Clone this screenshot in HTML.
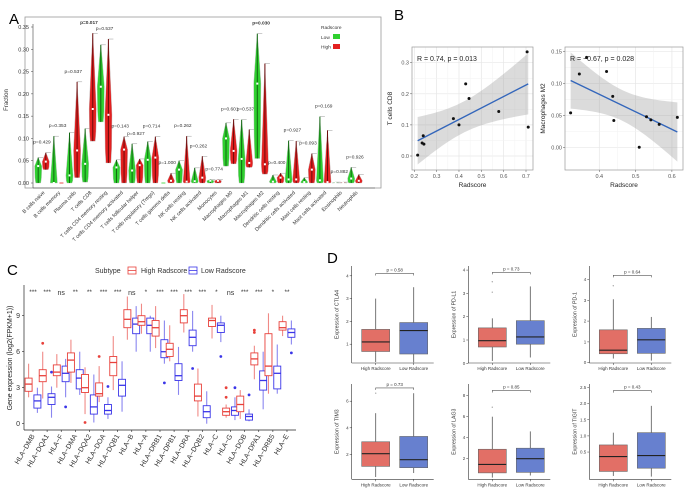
<!DOCTYPE html>
<html><head><meta charset="utf-8"><style>
html,body{margin:0;padding:0;background:#fff}
svg{display:block;font-family:"Liberation Sans",sans-serif}
</style></head><body>
<svg id="fig" width="685" height="490" viewBox="0 0 685 490" xmlns="http://www.w3.org/2000/svg">
<text x="9" y="24" font-size="15">A</text>
<text x="394" y="20" font-size="15">B</text>
<text x="7" y="275" font-size="15">C</text>
<text x="327" y="263" font-size="15">D</text>
<g id="pa"></g>
<g id="pb"></g>
<g id="pc"></g>
<g id="pd"></g>
</svg>
<script>
// ---------- Panel A data ----------
const aCells=["B cells naive","B cells memory","Plasma cells","T cells CD8","T cells CD4 memory resting","T cells CD4 memory activated","T cells follicular helper","T cells regulatory (Tregs)","T cells gamma delta","NK cells resting","NK cells activated","Monocytes","Macrophages M0","Macrophages M1","Macrophages M2","Dendritic cells resting","Dendritic cells activated","Mast cells resting","Mast cells activated","Eosinophils","Neutrophils"];
const aLowMax=[.057,.105,.113,.122,.31,.052,.088,.093,0,.05,.034,.008,.135,.142,.335,.018,.095,.012,.149,.002,.035];
const aLowMin=[0,0,0,.002,.137,0,0,0,0,0,0,0,.038,0,.055,0,0,0,0,0,0];
const aLowMed=[.038,0,.017,.043,.216,.035,.028,.052,0,.03,.004,.005,.1,.054,.223,.003,.008,.002,.006,0,.01];
const aHighMax=[.068,0,.227,.336,.323,.104,.054,.104,.022,.105,.06,.008,.143,.12,.268,.022,.094,.066,.118,.002,.019];
const aHighMin=[.03,0,.012,.094,.045,0,0,0,0,0,0,0,.043,.035,.02,0,0,0,0,0,0];
const aHighMed=[.048,0,.073,.166,.153,.075,.04,.057,.005,.003,.012,.005,.072,.045,.042,.012,.008,.03,.002,0,.005];
const aP=["p=0.429","p=0.353","p=0.537","p=0.017","p=0.537","p=0.143","p=0.927","p=0.714","p=1.000","p=0.262","p=0.262","p=0.774","p=0.601","p=0.537","p=0.030","p=0.400","p=0.927","p=0.093","p=0.169","p=0.882","p=0.926"];
const aTicks=[0,0.05,0.10,0.15,0.20,0.25,0.30,0.35];
const aTickLabels=["0.00","0.05","0.10","0.15","0.20","0.25","0.30","0.35"];
// ---------- Panel B data ----------
const b1X=[0.215,0.235,0.24,0.243,0.375,0.40,0.43,0.445,0.578,0.705,0.71];
const b1Y=[0.003,0.042,0.065,0.038,0.12,0.10,0.232,0.185,0.143,0.335,0.093];
const b2X=[0.321,0.345,0.365,0.42,0.437,0.44,0.51,0.53,0.542,0.565,0.615];
const b2Y=[0.054,0.115,0.141,0.119,0.08,0.042,0.0,0.048,0.043,0.036,0.047];
const b1Stat="R = 0.74, p = 0.013";
const b2Stat="R = \u22120.67, p = 0.028";
// ---------- Panel C data ----------
const cGenes=["HLA\u2212DMB","HLA\u2212DQA1","HLA\u2212F","HLA\u2212DMA","HLA\u2212DQA2","HLA\u2212DOA","HLA\u2212DQB1","HLA\u2212B","HLA\u2212A","HLA\u2212DRB1","HLA\u2212DPB1","HLA\u2212DRA","HLA\u2212DQB2","HLA\u2212C","HLA\u2212G","HLA\u2212DOB","HLA\u2212DPA1","HLA\u2212DRB5","HLA\u2212E"];
const cHigh=[[2.2,2.7,3.3,3.8,5.0],[2.1,3.5,4.0,4.5,6.0],[3.0,4.0,4.3,4.9,5.8],[3.4,4.3,5.3,5.9,7.0],[0.8,2.6,3.0,4.1,4.7],[1.8,2.3,2.5,3.4,4.8],[2.8,4.0,5.1,5.6,7.3],[7.0,8.0,8.7,9.5,10.6],[7.5,8.2,8.5,9.0,10.0],[6.3,7.3,8.0,8.6,9.8],[5.2,5.6,6.2,6.7,8.2],[7.6,8.4,9.0,9.5,10.8],[0.6,1.9,2.3,3.3,4.6],[7.1,8.1,8.6,8.8,9.9],[0.5,0.7,1.0,1.3,1.6],[0.4,1.0,1.6,2.3,2.8],[3.7,4.9,5.4,5.9,6.5],[2.5,4.0,4.8,7.5,9.2],[7.3,7.8,8.0,8.5,9.0]];
const cLow=[[0.9,1.3,1.9,2.4,3.0],[0.5,1.6,2.2,2.5,3.1],[2.2,3.5,4.2,4.8,5.4],[2.4,2.9,3.8,4.5,6.0],[0.1,0.8,1.4,2.4,4.1],[0.4,0.8,1.1,1.6,2.2],[1.0,2.3,3.2,3.7,5.2],[6.0,7.5,8.3,8.8,9.8],[6.0,7.5,8.2,8.8,9.0],[5.0,5.5,6.0,7.0,8.6],[2.4,3.6,4.0,5.0,6.4],[6.0,6.5,7.2,7.8,9.4],[0.0,0.5,1.0,1.5,2.7],[6.8,7.6,8.2,8.4,9.0],[0.3,0.7,1.1,1.4,2.2],[0.2,0.3,0.6,0.8,1.2],[1.2,2.8,3.6,4.4,6.0],[2.5,2.9,4.2,4.8,6.6],[6.6,7.2,7.6,7.9,8.6]];
const cHighOut=[[],[6.7],[],[],[0.1],[5.6],[],[],[],[],[],[],[],[],[2.2,3.0],[],[7.6,7.8],[],[]];
const cLowOut=[[],[4.3],[1.4],[],[],[3.1],[],[],[],[3.4],[],[4.6],[],[5.6],[3.0],[2.4],[],[],[5.9]];
const cSig=["***","***","ns","**","**","***","***","ns","*","***","***","***","***","*","ns","***","***","*","**"];
const cTicks=[0,3,6,9];
// ---------- Panel D data ----------
const dGenes=["CTLA4","PD-L1","PD-1","TIM3","LAG3","TIGIT"];
const dHigh=[[0.22,0.68,1.1,1.65,3.0],[0.1,0.7,0.97,1.52,1.93],[0.2,0.43,0.6,1.58,3.05],[0.3,1.1,2.05,2.95,5.1],[0.2,0.65,1.45,2.9,6.0],[-0.24,-0.1,0.36,0.72,1.1]];
const dLow=[[0.2,0.57,1.6,1.95,3.5],[0.25,0.82,1.13,1.83,3.3],[0.1,0.45,1.1,1.65,2.2],[0.6,1.0,1.6,3.35,6.6],[0.4,0.7,2.0,3.0,4.6],[-0.26,0.0,0.39,1.1,1.93]];
const dHighOut=[[],[3.05,3.5],[3.7],[6.6],[6.9],[]];
const dLowOut=[[],[],[],[],[],[]];
const dP=["p = 0.58","p = 0.73","p = 0.64","p = 0.73","p = 0.85","p = 0.43"];
const dBracket=[4.1,3.9,4.2,7.0,8.5,2.4];
const dTicks=[[1,2,3,4],[0,1,2,3,4],[0,1,2,3,4],[2,4,6],[2,4,6,8],[0.5,1.0,1.5,2.0,2.5]];

const NS="http://www.w3.org/2000/svg";
function mk(parent,tag,attrs,text){const e=document.createElementNS(NS,tag);for(const k in attrs)e.setAttribute(k,attrs[k]);if(text!==undefined)e.textContent=text;parent.appendChild(e);return e;}

// ================= Panel A =================
(function(){
const g=document.getElementById('pa');
const y=v=>183-v/0.35*156;
const x=i=>42+i*15.65;
const fr=mk(g,'rect',{x:25,y:17,width:356,height:171,fill:'none',stroke:'#999','stroke-width':0.8});


mk(g,'line',{x1:33,y1:24,x2:33,y2:188,stroke:'#444','stroke-width':0.6});
mk(g,'line',{x1:33,y1:188,x2:375,y2:188,stroke:'#444','stroke-width':0.6});
aTicks.forEach((t,i)=>{
  mk(g,'line',{x1:31,y1:y(t),x2:33,y2:y(t),stroke:'#444','stroke-width':0.5});
  const tl=mk(g,'text',{x:29,y:y(t)+2,'font-size':5.5,'text-anchor':'end',fill:'#333'},aTickLabels[i]);
  
  
});
const yt=mk(g,'text',{x:0,y:0,'font-size':6,'text-anchor':'middle',fill:'#333',transform:'translate(8,100) rotate(-90)'},'Fraction');


function violin(cx,mn,md,mx,col,dark,name){
  if(mx-mn<0.0015){mk(g,'line',{x1:cx-2,y1:y(mn),x2:cx+2,y2:y(mn),stroke:col,'stroke-width':0.8});return;}
  const w=3.6;
  const p=[[cx,y(mx)],[cx+w*0.35,y(mx-(mx-md)*0.3)],[cx+w,y(md)],[cx+w*0.9,y(mn+(md-mn)*0.3)],[cx+w*0.7,y(mn)],[cx-w*0.7,y(mn)],[cx-w*0.9,y(mn+(md-mn)*0.3)],[cx-w,y(md)],[cx-w*0.35,y(mx-(mx-md)*0.3)]];
  mk(g,'line',{x1:cx,y1:y(mx),x2:cx+5,y2:y(mx),stroke:'#999','stroke-width':0.5});
  const v=mk(g,'polygon',{points:p.map(q=>q.join(',')).join(' '),fill:col,stroke:'#bbb','stroke-width':0.4});
  
  
  mk(g,'line',{x1:cx,y1:y(mx),x2:cx,y2:y(mn),stroke:dark,'stroke-width':1});
  mk(g,'rect',{x:cx-1,y:y(md)-1,width:2,height:2,fill:'#fff'});
}
aCells.forEach((c,i)=>{
  const cx=x(i);
  violin(cx-3.8,aLowMin[i],aLowMed[i],aLowMax[i],'#2fd02f','#116611','violin-low-'+i);
  violin(cx+3.8,aHighMin[i],aHighMed[i],aHighMax[i],'#e32020','#6b0b0b','violin-high-'+i);
  const top=Math.max(aLowMax[i],aHighMax[i]);
  const pt=mk(g,'text',{x:cx,y:y(top)-9,'font-size':4.8,'text-anchor':'middle',fill:'#333','font-weight':(aP[i]==='p=0.017'||aP[i]==='p=0.030')?'bold':'normal'},aP[i]);
  
  
  const lab=mk(g,'text',{x:0,y:0,'font-size':5.2,'text-anchor':'end',fill:'#333',transform:`translate(${cx+3},193) rotate(-45)`},c);
  
  
});
const lg=mk(g,'g',{});


mk(lg,'text',{x:321,y:29,'font-size':4.8,fill:'#333'},'Radscore');
mk(lg,'text',{x:321,y:39,'font-size':4.8,fill:'#333'},'Low');
mk(lg,'rect',{x:333,y:34,width:7,height:5,fill:'#2fd02f'});
mk(lg,'text',{x:321,y:48.5,'font-size':4.8,fill:'#333'},'High');
mk(lg,'rect',{x:333,y:44,width:7,height:5,fill:'#e32020'});
})();

// ================= Panel B =================
(function(){
const g=document.getElementById('pb');
function scatter(X,Y,stat,frame,xs,ys,xt,yt,ylab,name,dec){
  const sg=mk(g,'g',{});
  
  
  mk(sg,'rect',{x:frame[0],y:frame[1],width:frame[2]-frame[0],height:frame[3]-frame[1],fill:'#fff'});
  const minor=[];
  for(let i=0;i<xt.length;i++){const px=xs(xt[i]);mk(sg,'line',{x1:px,y1:frame[1],x2:px,y2:frame[3],stroke:'#e6e6e6','stroke-width':0.7});if(i<xt.length-1)minor.push(xs((xt[i]+xt[i+1])/2));}
  for(let i=0;i<yt.length;i++){const py=ys(yt[i]);mk(sg,'line',{x1:frame[0],y1:py,x2:frame[2],y2:py,stroke:'#e6e6e6','stroke-width':0.7});if(i<yt.length-1)mk(sg,'line',{x1:frame[0],y1:ys((yt[i]+yt[i+1])/2),x2:frame[2],y2:ys((yt[i]+yt[i+1])/2),stroke:'#f2f2f2','stroke-width':0.5});}
  minor.forEach(px=>mk(sg,'line',{x1:px,y1:frame[1],x2:px,y2:frame[3],stroke:'#f2f2f2','stroke-width':0.5}));
  const n=X.length,xm=X.reduce((a,b)=>a+b)/n,ym=Y.reduce((a,b)=>a+b)/n;
  let sxx=0,sxy=0;X.forEach((v,i)=>{sxx+=(v-xm)**2;sxy+=(v-xm)*(Y[i]-ym);});
  const b=sxy/sxx,a=ym-b*xm;let sse=0;X.forEach((v,i)=>sse+=(Y[i]-a-b*v)**2);
  const s=Math.sqrt(sse/(n-2)),t=2.262;
  const x0=Math.min(...X),x1=Math.max(...X);const up=[],lo=[];
  for(let k=0;k<=40;k++){const xv=x0+(x1-x0)*k/40;const f=a+b*xv;const se=s*Math.sqrt(1/n+(xv-xm)**2/sxx);up.push([xs(xv),ys(f+t*se)]);lo.push([xs(xv),ys(f-t*se)]);}
  const band=mk(sg,'polygon',{points:up.concat(lo.reverse()).map(p=>p.join(',')).join(' '),fill:'#999','fill-opacity':0.35});
  
  
  const ln=mk(sg,'line',{x1:xs(x0),y1:ys(a+b*x0),x2:xs(x1),y2:ys(a+b*x1),stroke:'#3366bb','stroke-width':1.4});
  
  
  X.forEach((v,i)=>{const c=mk(sg,'circle',{cx:xs(v),cy:ys(Y[i]),r:1.5,fill:'#111'});
    
    });
  mk(sg,'rect',{x:frame[0],y:frame[1],width:frame[2]-frame[0],height:frame[3]-frame[1],fill:'none',stroke:'#999','stroke-width':0.7});
  xt.forEach(v=>{mk(sg,'line',{x1:xs(v),y1:frame[3],x2:xs(v),y2:frame[3]+2,stroke:'#555','stroke-width':0.5});mk(sg,'text',{x:xs(v),y:frame[3]+8,'font-size':5.5,'text-anchor':'middle',fill:'#555'},String(v));});
  yt.forEach(v=>{mk(sg,'line',{x1:frame[0]-2,y1:ys(v),x2:frame[0],y2:ys(v),stroke:'#555','stroke-width':0.5});mk(sg,'text',{x:frame[0]-3,y:ys(v)+2,'font-size':5.5,'text-anchor':'end',fill:'#555'},v.toFixed(dec));});
  const st=mk(sg,'text',{x:frame[0]+5,y:frame[1]+14,'font-size':7,fill:'#222'},stat);
  
  
  const xl=mk(sg,'text',{x:(frame[0]+frame[2])/2,y:frame[3]+17,'font-size':6.5,'text-anchor':'middle',fill:'#222'},'Radscore');
  
  
  const yl=mk(sg,'text',{x:0,y:0,'font-size':6.5,'text-anchor':'middle',fill:'#222',transform:`translate(${frame[0]-20},${(frame[1]+frame[3])/2}) rotate(-90)`},ylab);
  
  
}
scatter(b1X,b1Y,b1Stat,[412,47,533,170],v=>414.3+(v-0.2)/0.5*111.7,v=>156-v/0.3*93.3,[0.2,0.3,0.4,0.5,0.6,0.7],[0,0.1,0.2,0.3],'T cells CD8','scatter-cd8',1);
scatter(b2X,b2Y,b2Stat,[565,47,683,170],v=>599.3+(v-0.4)/0.1*36.3,v=>147.3-v/0.15*95.6,[0.4,0.5,0.6],[0,0.05,0.10,0.15],'Macrophages M2','scatter-m2',2);
})();

// ================= Panel C =================
(function(){
const g=document.getElementById('pc');
const y=v=>423.7-v*12;
const x=i=>33+i*14.11;
mk(g,'line',{x1:24,y1:285,x2:24,y2:430,stroke:'#222','stroke-width':0.7});
mk(g,'line',{x1:24,y1:430,x2:296,y2:430,stroke:'#222','stroke-width':0.7});
cTicks.forEach(t=>{mk(g,'line',{x1:22,y1:y(t),x2:24,y2:y(t),stroke:'#222','stroke-width':0.6});
  const tl=mk(g,'text',{x:20,y:y(t)+2.5,'font-size':7,'text-anchor':'end',fill:'#333'},String(t));
  
  });
const yl=mk(g,'text',{x:0,y:0,'font-size':7,'text-anchor':'middle',fill:'#222',transform:'translate(12,358) rotate(-90)'},'Gene expression (log2(FPKM+1))');


function box(cx,d,outs,col,light,name){
  const bg=mk(g,'g',{});
  
  
  const w=7;
  mk(bg,'line',{x1:cx,y1:y(d[0]),x2:cx,y2:y(d[1]),stroke:light,'stroke-width':1.1});
  mk(bg,'line',{x1:cx,y1:y(d[3]),x2:cx,y2:y(d[4]),stroke:light,'stroke-width':1.1});
  mk(bg,'rect',{x:cx-w/2,y:y(d[3]),width:w,height:y(d[1])-y(d[3]),fill:'#fff',stroke:col,'stroke-width':0.9});
  mk(bg,'line',{x1:cx-w/2,y1:y(d[2]),x2:cx+w/2,y2:y(d[2]),stroke:col,'stroke-width':1.3});
  outs.forEach(o=>mk(bg,'circle',{cx:cx,cy:y(o),r:1.4,fill:col}));
}
cGenes.forEach((gn,i)=>{
  box(x(i)-4.4,cHigh[i],cHighOut[i],'#e8413b','#f08a86','box-high-'+i);
  box(x(i)+4.4,cLow[i],cLowOut[i],'#3a35e8','#8a86f0','box-low-'+i);
  mk(g,'line',{x1:x(i),y1:430,x2:x(i),y2:432,stroke:'#222','stroke-width':0.6});
  const s=mk(g,'text',{x:x(i),y:cSig[i]==='ns'?295:294,'font-size':cSig[i]==='ns'?7:6.5,'text-anchor':'middle',fill:'#333'},cSig[i]);
  
  
  const l=mk(g,'text',{x:0,y:0,'font-size':7,'text-anchor':'end',fill:'#333',transform:`translate(${x(i)+2},436) rotate(-60)`},gn);
  
  
});
const lg=mk(g,'g',{});


mk(lg,'text',{x:95,y:273,'font-size':7,fill:'#333'},'Subtype');
mk(lg,'rect',{x:128,y:267,width:8,height:7,fill:'#fff',stroke:'#e8413b','stroke-width':0.8});
mk(lg,'line',{x1:128,y1:270.5,x2:136,y2:270.5,stroke:'#e8413b','stroke-width':0.8});
mk(lg,'text',{x:141,y:273,'font-size':7,fill:'#333'},'High Radscore');
mk(lg,'rect',{x:189,y:267,width:8,height:7,fill:'#fff',stroke:'#3a35e8','stroke-width':0.8});
mk(lg,'line',{x1:189,y1:270.5,x2:197,y2:270.5,stroke:'#3a35e8','stroke-width':0.8});
mk(lg,'text',{x:201,y:273,'font-size':7,fill:'#333'},'Low Radscore');
})();

// ================= Panel D =================
(function(){
const g=document.getElementById('pd');
const layout=[{l:351.7,b:363,t:266,z:367,u:22.8},{l:468.3,b:363,t:266,z:363.3,u:23.3},{l:589.3,b:363,t:266,z:362.7,u:20.8},
              {l:351.7,b:479.3,t:384,z:481,u:13.3},{l:468.3,b:479.3,t:384,z:479.7,u:10.5},{l:589.3,b:479.3,t:384,z:468.2,u:32.3}];
dGenes.forEach((gn,k)=>{
  const L=layout[k];const y=v=>L.z-v*L.u;
  const sg=mk(g,'g',{});
  
  
  mk(sg,'line',{x1:L.l,y1:L.t,x2:L.l,y2:L.b,stroke:'#333','stroke-width':0.6});
  mk(sg,'line',{x1:L.l,y1:L.b,x2:L.l+82,y2:L.b,stroke:'#333','stroke-width':0.6});
  dTicks[k].forEach(t=>{mk(sg,'line',{x1:L.l-2,y1:y(t),x2:L.l,y2:y(t),stroke:'#333','stroke-width':0.5});
    mk(sg,'text',{x:L.l-3,y:y(t)+1.5,'font-size':4.5,'text-anchor':'end',fill:'#444'},k===5?t.toFixed(1):String(t));});
  const yl=mk(sg,'text',{x:0,y:0,'font-size':5.2,'text-anchor':'middle',fill:'#333',transform:`translate(${L.l-13},${(L.t+L.b)/2}) rotate(-90)`},'Expression of '+gn);
  
  
  [[dHigh[k],dHighOut[k],'#e26f66',24,'High Radscore'],[dLow[k],dLowOut[k],'#6780cf',62,'Low Radscore']].forEach(([d,outs,col,off,lab])=>{
    const cx=L.l+off,w=28;
    mk(sg,'line',{x1:cx,y1:y(d[0]),x2:cx,y2:y(d[4]),stroke:'#555','stroke-width':0.8});
    const r=mk(sg,'rect',{x:cx-w/2,y:y(d[3]),width:w,height:y(d[1])-y(d[3]),fill:col,stroke:'#666','stroke-width':0.6});
    
    
    mk(sg,'line',{x1:cx-w/2,y1:y(d[2]),x2:cx+w/2,y2:y(d[2]),stroke:'#222','stroke-width':1.1});
    outs.forEach(o=>mk(sg,'circle',{cx:cx,cy:y(o),r:0.7,fill:'#aaa'}));
    mk(sg,'line',{x1:cx,y1:L.b,x2:cx,y2:L.b+2,stroke:'#333','stroke-width':0.5});
    mk(sg,'text',{x:cx,y:L.b+7,'font-size':4.5,'text-anchor':'middle',fill:'#333'},lab);
  });
  const by=y(dBracket[k]);
  mk(sg,'polyline',{points:`${L.l+24},${by+2} ${L.l+24},${by} ${L.l+62},${by} ${L.l+62},${by+2}`,fill:'none',stroke:'#555','stroke-width':0.6});
  const pt=mk(sg,'text',{x:L.l+43,y:by-2,'font-size':4.5,'text-anchor':'middle',fill:'#333'},dP[k]);
  
  
});
})();
</script>
</body></html>
